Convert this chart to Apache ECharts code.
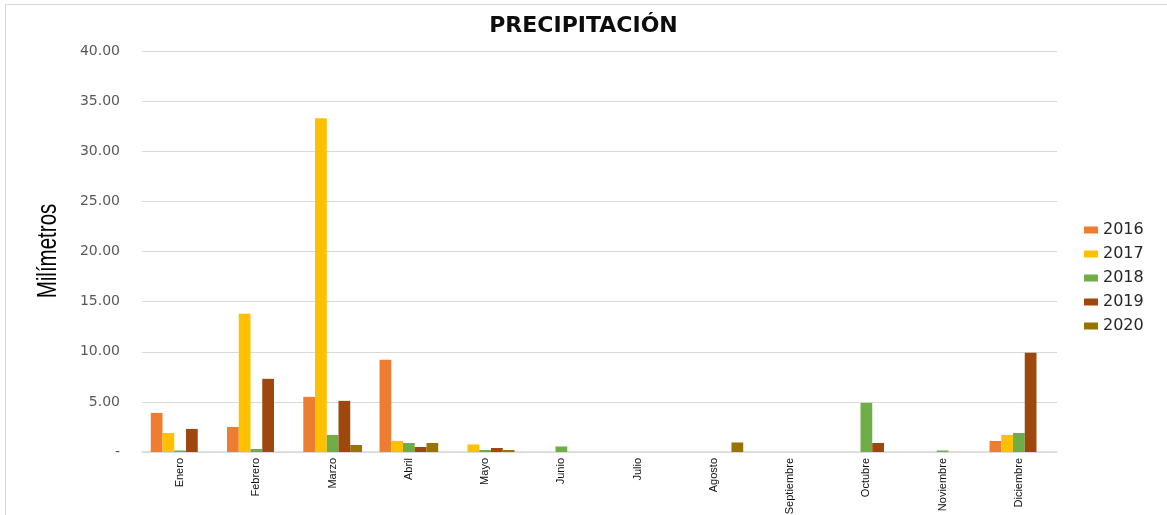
<!DOCTYPE html>
<html>
<head>
<meta charset="utf-8">
<script src="https://cdn.jsdelivr.net/npm/echarts@6/dist/echarts.min.js"></script>
<style>
  html, body { margin: 0; padding: 0; background: #fff; }
  #chart { width: 1167px; height: 515px; }
  #frame {
    position: absolute; left: 5px; top: 4px; right: 0; bottom: 0;
    border-left: 1px solid #d9d9d9; border-top: 1px solid #d9d9d9;
    pointer-events: none;
  }
</style>
</head>
<body>
<div id="chart"></div>
<div id="frame"></div>
<script>
// meses
const months = ['Enero', 'Febrero', 'Marzo', 'Abril', 'Mayo', 'Junio', 'Julio',
  'Agosto', 'Septiembre', 'Octubre', 'Noviembre', 'Diciembre']

// precipitación por año (mm)
const p2016 = [3.9, 2.5, 5.5, 9.2, 0, 0, 0, 0, 0, 0, 0, 1.1]
const p2017 = [1.9, 13.8, 33.3, 1.1, 0.75, 0, 0, 0, 0, 0, 0, 1.7]
const p2018 = [0.15, 0.3, 1.7, 0.9, 0.2, 0.55, 0, 0, 0, 4.9, 0.15, 1.9]
const p2019 = [2.3, 7.3, 5.1, 0.5, 0.4, 0, 0, 0, 0, 0.9, 0, 9.9]
const p2020 = [0, 0, 0.7, 0.9, 0.2, 0, 0, 0.95, 0, 0, 0, 0]

const years = ['2016', '2017', '2018', '2019', '2020']
const colors = ['#ED7D31', '#FFC000', '#70AD47', '#9E480E', '#997300']
const values = [p2016, p2017, p2018, p2019, p2020]

const chart = echarts.init(document.getElementById('chart'))

const series = years.map((y, i) => ({
  name: y,
  type: 'bar',
  barGap: '0%',
  barCategoryGap: '23%',
  itemStyle: {
    color: colors[i]
  },
  data: values[i]
}))

chart.setOption({
  animation: false,
  title: {
    text: 'PRECIPITACIÓN',
    left: 'center',
    top: 10,
    textStyle: {
      fontFamily: 'DejaVu Sans',
      fontWeight: 'bold',
      fontSize: 22,
      color: '#0d0d0d'
    }
  },
  // eje Y: texto estrecho como en el original
  graphic: [{
    type: 'text',
    x: 49,
    y: 251,
    rotation: Math.PI / 2,
    scaleX: 0.76,
    style: {
      text: 'Milímetros',
      fontFamily: 'Liberation Sans',
      fontSize: 27,
      fill: '#000',
      align: 'center',
      verticalAlign: 'middle'
    }
  }],
  legend: {
    orient: 'vertical',
    left: 1079,
    top: 217,
    itemWidth: 14,
    itemHeight: 7,
    itemGap: 8,
    icon: 'rect',
    data: years,
    textStyle: {
      fontFamily: 'DejaVu Sans',
      fontSize: 16,
      color: '#262626'
    }
  },
  grid: {
    left: 142,
    right: 110,
    top: 51,
    bottom: 63,
    outerBoundsMode: 'none'
  },
  xAxis: {
    type: 'category',
    data: months,
    axisLine: { lineStyle: { color: '#d9d9d9', width: 1.5 } },
    axisTick: { show: false },
    axisLabel: {
      rotate: 90,
      margin: 6,
      fontFamily: 'Liberation Sans',
      fontSize: 11,
      color: '#111'
    }
  },
  yAxis: {
    type: 'value',
    min: 0,
    max: 40,
    interval: 5,
    axisLine: { show: false },
    axisTick: { show: false },
    splitLine: { lineStyle: { color: '#d9d9d9', width: 1.2 } },
    axisLabel: {
      margin: 22,
      fontFamily: 'DejaVu Sans',
      fontSize: 14,
      color: '#595959',
      formatter: v => v === 0 ? '-' : v.toFixed(2)
    }
  },
  series
})
</script>
</body>
</html>
